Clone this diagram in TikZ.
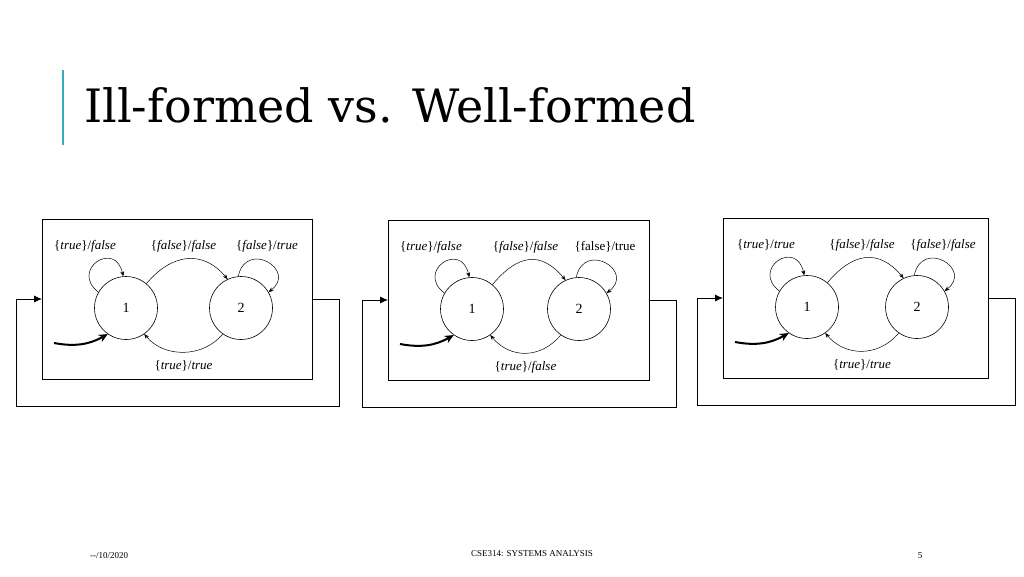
\documentclass[tikz,border=0pt]{standalone}
\usepackage{fontspec}
\setmainfont{Liberation Serif}
\usetikzlibrary{arrows.meta,calc}
\newfontfamily\titlefont{DejaVu Serif}
\tikzset{
  st/.style={circle,draw,line width=0.6pt,minimum size=63pt,inner sep=0pt,font=\fontsize{14}{16}\selectfont},
  lbl/.style={font=\fontsize{13}{15}\selectfont,inner sep=0pt},
  tr/.style={line width=0.5pt,-{Stealth[length=5pt,width=4pt]}},
  frame/.style={draw,line width=0.8pt},
  fb/.style={line width=0.8pt},
  foot/.style={font=\fontsize{9}{11}\selectfont,inner sep=0pt}
}
\newcommand\mypanel[9]{%
 \begin{scope}[shift={(#2,#3)}]
  \node[frame,minimum width=#4pt,minimum height=160pt,anchor=north west,inner sep=0pt] (#1box) at (42,219) {};
  \node[st] (#11) at (126,308) {1};
  \node[st] (#12) at (#9,308) {2};
  \node[lbl] (#1l1) at (85,246) {#5};
  \node[lbl] (#1l2) at ({(126+#9)/2},246) {#6};
  \node[lbl] (#1l3) at ({#9+26},246) {#7};
  \node[lbl] (#1l4) at ({(126+#9)/2},366) {#8};
  \draw[tr] (#11.150) .. controls ($(#11.150)+(-29,-22)$) and ($(#11.95)+(-8,-37)$) .. (#11.95);
  \draw[tr] (#12.95) .. controls ($(#12.95)+(8,-37)$) and ($(#12.30)+(29,-22)$) .. (#12.30);
  \draw[tr] (#11.50) .. controls ($(#11.50)+(25,-30)$) and ($(#12.115)+(-25,-30)$) .. (#12.115);
  \draw[tr] (#12.235) .. controls ($(#12.235)+(-20,24)$) and ($(#11.305)+(20,24)$) .. (#11.305);
  \coordinate (#1s) at (54,343);
  \draw[line width=2pt,-{Stealth[length=9pt,width=8pt]}] (#1s) to[bend right=20] (#11.235);
  \draw[fb,-{Latex[length=8pt,width=7pt]}] (#1box.north east|- 0,299) -- ++(27,0) |- (16,406) |- (#1box.west|-0,299);
 \end{scope}}
\begin{document}
\begin{tikzpicture}[x=1pt,y=-1pt]
\useasboundingbox[fill=white] (0,0) rectangle (1024,576);
\draw[line width=1.3pt,draw={rgb,255:red,60;green,170;blue,190}] (63,70) -- (63,145);
\node[anchor=west,inner sep=0pt,font=\titlefont\fontsize{46}{52}\selectfont] (title) at (84,105) {Ill-formed vs. Well-formed};
\mypanel{a}{0}{0}{270}{\{\textit{true}\}/\textit{false}}{\{\textit{false}\}/\textit{false}}{\{\textit{false}\}/\textit{true}}{\{\textit{true}\}/\textit{true}}{241}
\mypanel{b}{346}{1}{261}{\{\textit{true}\}/\textit{false}}{\{\textit{false}\}/\textit{false}}{\{false\}/true}{\{\textit{true}\}/\textit{false}}{233}
\mypanel{c}{681}{-1}{265}{\{\textit{true}\}/\textit{true}}{\{\textit{false}\}/\textit{false}}{\{\textit{false}\}/\textit{false}}{\{\textit{true}\}/\textit{true}}{236}
\node[foot,anchor=west] (date) at (90,556) {{-}{-}/10/2020};
\node[foot] (course) at (532,554) {CSE314: SYSTEMS ANALYSIS};
\node[foot] (page) at (920,556) {5};
\end{tikzpicture}
\end{document}
